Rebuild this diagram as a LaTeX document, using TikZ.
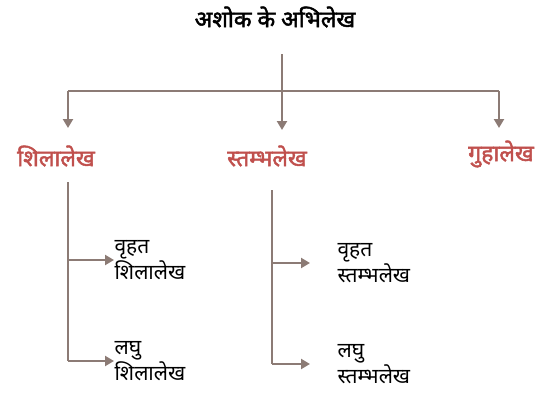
\documentclass[tikz,border=0pt]{standalone}
\usepackage{fontspec}
\usepackage{tikz}
\usetikzlibrary{arrows.meta}
\newfontfamily\hindi[Script=Devanagari]{Noto Sans}
\newfontfamily\hindibold[Script=Devanagari,FakeBold=2]{Noto Sans}
\definecolor{linea}{RGB}{140,123,117}
\definecolor{rojo}{RGB}{192,80,77}
\tikzset{
  titulo/.style={font=\hindibold\fontsize{23}{26}\selectfont},
  rama/.style={font=\hindibold\fontsize{23}{26}\selectfont,text=rojo},
  hoja/.style={font=\hindi\fontsize{21}{23}\selectfont,align=left,anchor=west},
  conector/.style={draw=linea,line width=2.2pt},
  flecha/.style={conector,-{Triangle[width=10pt,length=9pt]}}
}

\begin{document}
\begin{tikzpicture}[x=1pt,y=-1pt]
\useasboundingbox (0,0) rectangle (547,400);

% raiz
\node[titulo] (raiz) at (275,17) {अशोक के अभिलेख};
\coordinate (r) at (282,54);
\coordinate (j) at (282,91);

% ramas
\node[rama] (shila) at (56,156) {शिलालेख};
\node[rama] (stambh) at (267,156) {स्तम्भलेख};
\node[rama] (guha) at (501,154) {गुहालेख};
\coordinate (a1) at (68,128);
\coordinate (a2) at (282,130);
\coordinate (a3) at (499,128);

\draw[conector] (r) -- (j);
\draw[conector] (a1 |- j) -- (a3 |- j);
\draw[flecha] (a1 |- j) -- (a1);
\draw[flecha] (j) -- (a2);
\draw[flecha] (a3 |- j) -- (a3);

% hojas de शिलालेख
\coordinate (s0) at (68,182);
\node[hoja] (s1) at (111,260) {वृहत\\शिलालेख};
\node[hoja] (s2) at (111,361) {लघु\\शिलालेख};
\draw[conector] (s0) -- (s0 |- s2);
\draw[flecha] (s0 |- s1) -- ([xshift=3pt]s1.west);
\draw[flecha] (s0 |- s2) -- ([xshift=3pt]s2.west);

% hojas de स्तम्भलेख
\coordinate (t0) at (272,190);
\node[hoja] (t1) at (334,263) {वृहत\\स्तम्भलेख};
\node[hoja] (t2) at (334,364) {लघु\\स्तम्भलेख};
\draw[conector] (t0) -- (t0 |- t2);
\draw[flecha] (t0 |- t1) -- ([xshift=-24pt]t1.west);
\draw[flecha] (t0 |- t2) -- ([xshift=-24pt]t2.west);
\end{tikzpicture}
\end{document}
